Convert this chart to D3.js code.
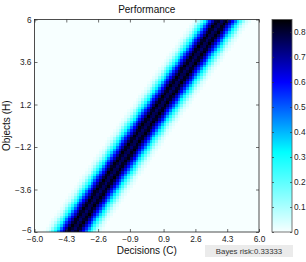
<!DOCTYPE html>
<html>
  <head>
    <meta charset="utf-8">
    <style>
      body { margin: 0; background: #fff; }
      svg { display: block; font-family: "Liberation Sans", Arial, sans-serif; }
      .tick text { font-size: 8.3px; fill: #222; }
    </style>
  </head>
  <body>
    <svg width="306" height="262"></svg>
    <script src="https://d3js.org/d3.v7.min.js"></script>
    <script>
      // tick labels as printed on the chart
      var xTicks = [-6.0, -4.3, -2.6, -0.9, 0.9, 2.6, 4.3, 6.0];
      var yTicks = [-6, -3.6, -1.2, 1.2, 3.6, 6];
      var cTicks = [0, 0.1, 0.2, 0.3, 0.4, 0.5, 0.6, 0.7, 0.8];
      var cMax = 0.85;

      // where the dark ridge sits (x) at a few heights (y)
      var ridgeY = [-6, 0, 6];
      var ridgeX = [-4.0, -0.05, 4.05];

      // cross section of the band: value vs horizontal distance from ridge
      var profileOffset = [-1.6, -1.3, -1.1, -0.9, -0.7, -0.45, -0.25, 0, 0.25, 0.45, 0.7, 0.9, 1.1, 1.3, 1.6];
      var profileValue  = [0, 0.05, 0.17, 0.32, 0.5, 0.7, 0.85, 0.74, 0.85, 0.7, 0.5, 0.32, 0.17, 0.05, 0];

      var gridCols = 80, gridRows = 76;
      var riskText = "Bayes risk:0.33333";

      var svg = d3.select("svg");
      var pLeft = 34.5, pRight = 259, pTop = 19.5, pBottom = 232;

      var x = d3.scaleLinear().domain([-6, 6]).range([pLeft, pRight]);
      var y = d3.scaleLinear().domain([-6, 6]).range([pBottom, pTop]);

      var color = d3.scaleLinear()
        .domain([0, 0.32, 0.6, 0.85])
        .range(["#f7ffff", "#00ffff", "#0000ff", "#000000"])
        .clamp(true);

      var ridge = d3.scaleLinear().domain(ridgeY).range(ridgeX);
      var profile = d3.scaleLinear().domain(profileOffset).range(profileValue).clamp(true);

      // cells
      var cells = [];
      var dx = 12 / gridCols, dy = 12 / gridRows;
      for (var j = 0; j < gridRows; j++) {
        for (var i = 0; i < gridCols; i++) {
          var mx = -6 + (i + 0.5) * dx, my = -6 + (j + 0.5) * dy;
          cells.push({ x0: -6 + i * dx, y0: -6 + j * dy, v: profile(mx - ridge(my)) });
        }
      }

      svg.append("g")
        .selectAll("rect")
        .data(cells)
        .enter().append("rect")
          .attr("x", function(d) { return x(d.x0); })
          .attr("y", function(d) { return y(d.y0 + dy); })
          .attr("width", x(dx) - x(0) + 0.4)
          .attr("height", y(0) - y(dy) + 0.4)
          .attr("fill", function(d) { return color(d.v); })
          .attr("shape-rendering", "crispEdges");

      var minus = function(s) { return s.replace("-", "\u2212"); };

      // axes, MATLAB style inward ticks
      svg.append("g")
        .attr("transform", "translate(0," + pBottom + ")")
        .call(d3.axisBottom(x).tickValues(xTicks).tickSizeInner(-3).tickSizeOuter(0).tickPadding(4)
          .tickFormat(function(d) { return minus(d3.format(".1f")(d)); }));
      var yAxis = svg.append("g")
        .attr("transform", "translate(" + pLeft + ",0)")
        .call(d3.axisLeft(y).tickValues(yTicks).tickSizeInner(-3).tickSizeOuter(0).tickPadding(3)
          .tickFormat(function(d) { return minus(String(d)); }));
      // bottom label sits a little higher, clear of the x labels
      yAxis.selectAll(".tick text").filter(function(d) { return d === -6; }).attr("dy", "0.1em");
      svg.append("g")
        .attr("transform", "translate(0," + pTop + ")")
        .call(d3.axisTop(x).tickValues(xTicks).tickSizeInner(-3).tickSizeOuter(0).tickFormat(""));
      svg.append("g")
        .attr("transform", "translate(" + pRight + ",0)")
        .call(d3.axisRight(y).tickValues(yTicks).tickSizeInner(-3).tickSizeOuter(0).tickFormat(""));

      svg.selectAll(".domain").remove();

      svg.append("rect")
        .attr("x", pLeft).attr("y", pTop)
        .attr("width", pRight - pLeft).attr("height", pBottom - pTop)
        .attr("fill", "none").attr("stroke", "#222").attr("stroke-width", 0.8);

      // colorbar
      var cbLeft = 272, cbRight = 292;
      var cScale = d3.scaleLinear().domain([0, cMax]).range([pBottom, pTop]);
      var grad = svg.append("defs").append("linearGradient").attr("id", "cb")
        .attr("x1", 0).attr("y1", 1).attr("x2", 0).attr("y2", 0);
      color.domain().forEach(function(s) {
        grad.append("stop").attr("offset", s / cMax).attr("stop-color", color(s));
      });
      svg.append("rect")
        .attr("x", cbLeft).attr("y", pTop)
        .attr("width", cbRight - cbLeft).attr("height", pBottom - pTop)
        .attr("fill", "url(#cb)")
        .attr("stroke", "#555").attr("stroke-width", 0.8);

      svg.append("g")
        .attr("transform", "translate(" + cbRight + ",0)")
        .call(d3.axisRight(cScale).tickValues(cTicks).tickSizeInner(-2).tickSizeOuter(0).tickPadding(2)
          .tickFormat(function(d) { return d === 0 ? "0" : d3.format(".1f")(d); }))
        .call(function(g) { g.select(".domain").remove(); });
      svg.append("g")
        .attr("transform", "translate(" + cbLeft + ",0)")
        .call(d3.axisLeft(cScale).tickValues(cTicks).tickSizeInner(-2).tickSizeOuter(0).tickFormat(""))
        .call(function(g) { g.select(".domain").remove(); });
      svg.selectAll(".tick line").attr("stroke", "#333").attr("stroke-width", 0.7);

      // titles
      svg.append("text")
        .attr("x", (pLeft + pRight) / 2).attr("y", 13)
        .attr("text-anchor", "middle")
        .attr("font-size", 10).attr("fill", "#111")
        .text("Performance");
      svg.append("text")
        .attr("x", (pLeft + pRight) / 2).attr("y", 254)
        .attr("text-anchor", "middle")
        .attr("font-size", 10).attr("fill", "#111")
        .text("Decisions (C)");
      svg.append("text")
        .attr("transform", "translate(10," + ((pTop + pBottom) / 2) + ") rotate(-90)")
        .attr("text-anchor", "middle")
        .attr("font-size", 10).attr("fill", "#111")
        .text("Objects (H)");

      // risk label
      svg.append("rect")
        .attr("x", 205).attr("y", 245)
        .attr("width", 88).attr("height", 12)
        .attr("fill", "#ebebeb");
      svg.append("text")
        .attr("x", 249).attr("y", 254)
        .attr("text-anchor", "middle")
        .attr("font-size", 7.8).attr("fill", "#333")
        .text(riskText);
    </script>
  </body>
</html>
